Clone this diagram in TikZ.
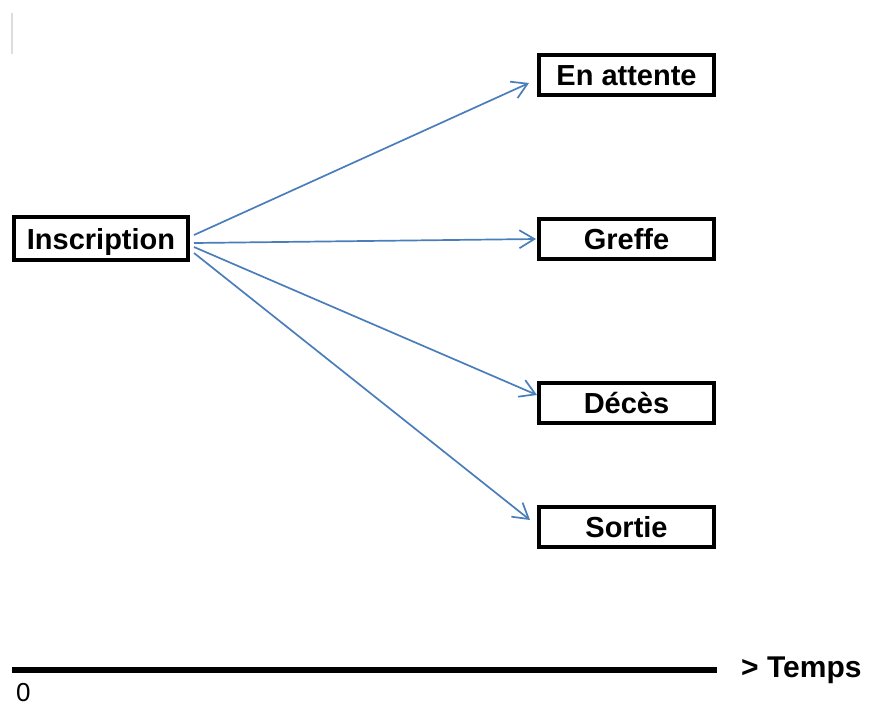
\documentclass[tikz,border=0pt]{standalone}
\usepackage{fontspec}
\setmainfont{Liberation Sans}
\usetikzlibrary{arrows.meta}
\definecolor{arrowblue}{HTML}{4A7EBB}
\definecolor{faintgray}{HTML}{DDDDDD}
\begin{document}
\begin{tikzpicture}[x=1pt,y=-1pt,
  statebox/.style={draw=black,line width=4pt,inner sep=0pt,
    minimum width=175pt,minimum height=40pt,
    text height=21pt,text depth=0pt,
    font=\fontsize{29}{32}\selectfont\bfseries},
  flow/.style={draw=arrowblue,line width=1.7pt,
    -{Straight Barb[length=15pt,width=18pt,line width=1.7pt]}}]
\useasboundingbox (0,0) rectangle (870,705);
% faint mark top-left
\draw[faintgray,line width=2pt] (12,13) -- (12,54);
% nodes
\node[statebox,minimum width=174pt,minimum height=43pt] (ins) at (101,238.5) {Inscription};
\node[statebox] (att) at (626.5,75) {En attente};
\node[statebox] (gre) at (626.5,239) {Greffe};
\node[statebox] (dec) at (626.5,403) {Décès};
\node[statebox] (sor) at (626.5,527) {Sortie};
% arrows
\draw[flow] ([xshift=4pt,yshift=3.5pt]ins.east) -- ([xshift=-8pt,yshift=-8pt]att.west);
\draw[flow] ([xshift=4pt,yshift=-4.5pt]ins.east) -- ([xshift=-1pt]gre.west);
\draw[flow] ([xshift=4pt,yshift=-8.5pt]ins.east) -- ([yshift=8pt]dec.west);
\draw[flow] ([xshift=4pt,yshift=-14.5pt]ins.east) -- ([xshift=-7pt,yshift=7pt]sor.west);
% time axis
\coordinate (t0) at (12,670);
\coordinate (t1) at (717,670);
\draw[black,line width=6pt] (t0) -- (t1);
\node[anchor=base west,inner sep=0pt,font=\fontsize{26}{28}\selectfont] (zero) at (16,701) {0};
\node[anchor=west,inner sep=0pt,font=\fontsize{30}{32}\selectfont\bfseries] (temps) at (741,670) {> Temps};
\end{tikzpicture}
\end{document}
